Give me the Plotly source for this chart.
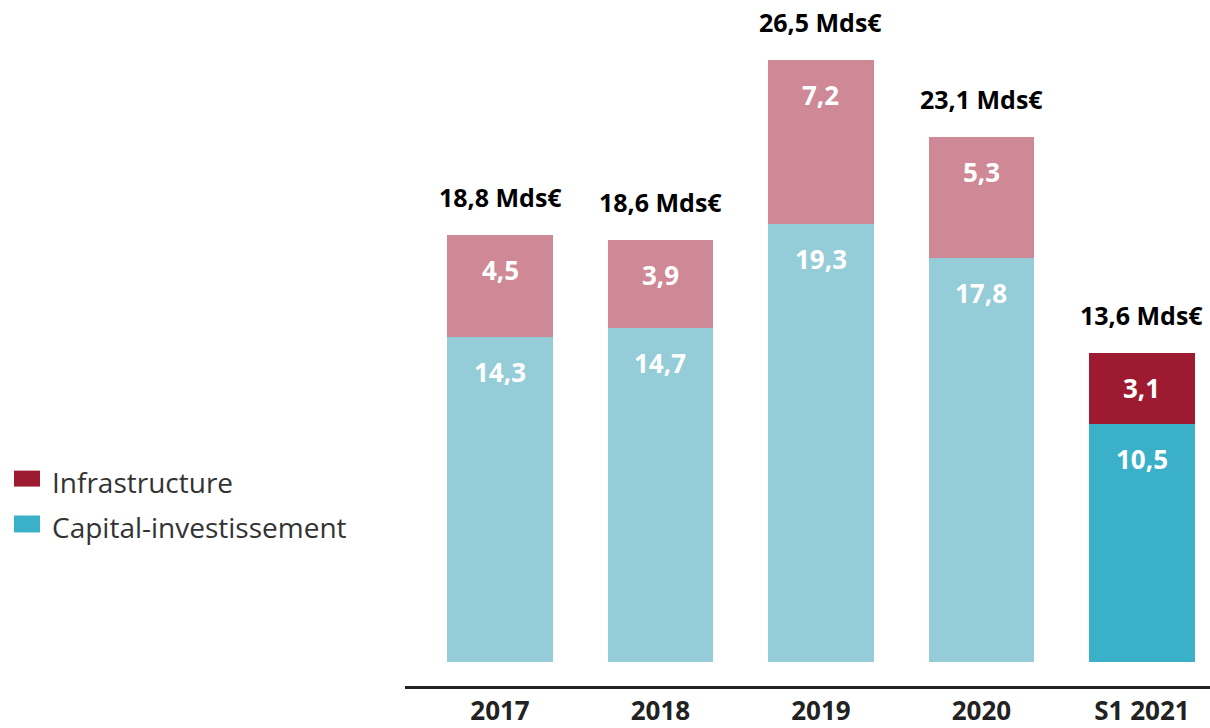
import plotly.graph_objects as go

categories = ["2017", "2018", "2019", "2020", "S1 2021"]
capital = [14.3, 14.7, 19.3, 17.8, 10.5]
infra = [4.5, 3.9, 7.2, 5.3, 3.1]
totals = [18.8, 18.6, 26.5, 23.1, 13.6]
legend_names = ["Infrastructure", "Capital-investissement"]

cap_colors = ["#94CCD8"] * 4 + ["#3AB1C8"]
inf_colors = ["#CE8896"] * 4 + ["#9E1A30"]
legend_colors = ["#9E1A30", "#3AB1C8"]

def fr(v):
    return f"{v:.1f}".replace(".", ",")

FONT = "Open Sans"
W = 0.66

FIG_W, FIG_H = 1210, 728
ML, MB = 405, 40
PW, PH = FIG_W - ML, FIG_H - MB

def px(xs):
    return (xs - ML) / PW

def py(ys):
    return 1 - ys / PH

fig = go.Figure()
fig.add_trace(go.Bar(x=categories, y=capital, marker_color=cap_colors, width=W,
                     marker_line_width=0, showlegend=False, hoverinfo="skip"))
fig.add_trace(go.Bar(x=categories, y=infra, marker_color=inf_colors, width=W,
                     marker_line_width=0, showlegend=False, hoverinfo="skip"))

ann = []
for i, c in enumerate(categories):
    ann.append(dict(x=i, y=capital[i], text=fr(capital[i]), showarrow=False,
                    yshift=-35, font=dict(family=FONT, size=26, color="white", weight="bold")))
    ann.append(dict(x=i, y=capital[i] + infra[i], text=fr(infra[i]), showarrow=False,
                    yshift=-35, font=dict(family=FONT, size=26, color="white", weight="bold")))
    ann.append(dict(x=i, y=totals[i], text=fr(totals[i]) + " Mds€", showarrow=False,
                    yshift=38, font=dict(family=FONT, size=25, color="black", weight="bold")))

shapes = []
leg_y = [(472, 488, 483), (517, 534, 529)]
for (y0, y1, yc), name, col in zip(leg_y, legend_names, legend_colors):
    shapes.append(dict(type="rect", xref="paper", yref="paper",
                       x0=px(14), x1=px(40), y0=py(y1), y1=py(y0),
                       fillcolor=col, line_width=0))
    ann.append(dict(xref="paper", yref="paper", x=px(50), y=py(yc), text=name,
                    showarrow=False, xanchor="left", yanchor="middle",
                    font=dict(family=FONT, size=28, color="#333")))

fig.update_layout(
    width=FIG_W, height=FIG_H,
    barmode="stack",
    showlegend=False,
    plot_bgcolor="white", paper_bgcolor="white",
    margin=dict(l=ML, r=0, t=0, b=MB),
    xaxis=dict(type="category", range=[-0.592, 4.424], showgrid=False, showline=True,
               linecolor="#222", linewidth=2.5, ticks="",
               tickfont=dict(family=FONT, size=26, color="#222", weight="bold")),
    yaxis=dict(range=[-1.054, 29.15], visible=False),
    annotations=ann,
    shapes=shapes,
)

fig.write_html("out.html", config={"displayModeBar": False},
               post_script="document.body.style.margin='0';document.body.style.overflow='hidden';")
